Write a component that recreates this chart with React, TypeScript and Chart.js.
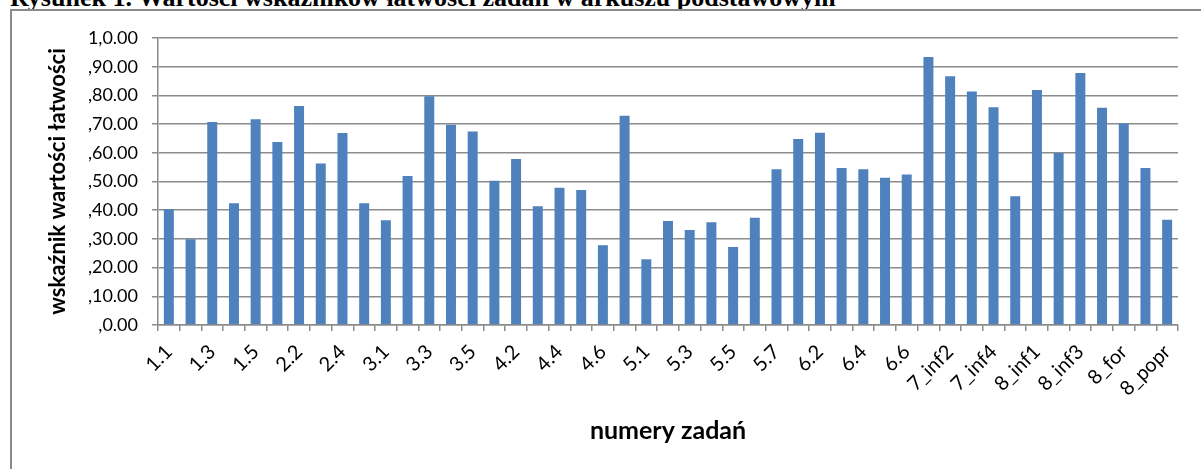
import React, { useEffect, useRef } from "react";
import { Chart, registerables } from "chart.js";

Chart.register(...registerables);

const categories: string[] = [
  "1.1", "1.2", "1.3", "1.4", "1.5",
  "2.1", "2.2", "2.3", "2.4", "2.5",
  "3.1", "3.2", "3.3", "3.4", "3.5",
  "4.1", "4.2", "4.3", "4.4", "4.5", "4.6", "4.7",
  "5.1", "5.2", "5.3", "5.4", "5.5", "5.6", "5.7",
  "6.1", "6.2", "6.3", "6.4", "6.5", "6.6",
  "7_inf1", "7_inf2", "7_inf3", "7_inf4", "7_popr",
  "8_inf1", "8_inf2", "8_inf3", "8_inf4", "8_for", "8_for2", "8_popr",
];

const easinessValues: number[] = [
  0.403, 0.299, 0.707, 0.424, 0.717,
  0.638, 0.763, 0.563, 0.669, 0.424,
  0.365, 0.519, 0.797, 0.698, 0.674,
  0.503, 0.578, 0.414, 0.478, 0.470, 0.278, 0.729,
  0.229, 0.362, 0.331, 0.358, 0.272, 0.374, 0.543,
  0.648, 0.670, 0.547, 0.543, 0.513, 0.524,
  0.934, 0.867, 0.814, 0.759, 0.449,
  0.819, 0.599, 0.878, 0.757, 0.702, 0.547, 0.367,
];

const yTickLabels: string[] = [
  ",0.00", ",10.00", ",20.00", ",30.00", ",40.00", ",50.00",
  ",60.00", ",70.00", ",80.00", ",90.00", "1,0.00",
];

const TITLE = "Rysunek 1. Wartości wskaźników łatwości zadań w arkuszu podstawowym";
const Y_TITLE = "wskaźnik wartości łatwości";
const X_TITLE = "numery zadań";

const FONT = "Lato, 'Noto Sans', sans-serif";
const GRID = "#8c8c8c";

export default function App() {
  const canvasRef = useRef<HTMLCanvasElement | null>(null);

  useEffect(() => {
    if (!canvasRef.current) return;
    const chart = new Chart(canvasRef.current, {
      type: "bar",
      data: {
        labels: categories,
        datasets: [
          {
            data: easinessValues,
            backgroundColor: "#4f81bd",
            borderWidth: 0,
            categoryPercentage: 1,
            barPercentage: 0.46,
          },
        ],
      },
      options: {
        animation: false,
        responsive: false,
        maintainAspectRatio: false,
        layout: { padding: { top: 38, right: 23, left: 0, bottom: 0 } },
        plugins: {
          legend: { display: false },
          tooltip: { enabled: false },
          title: { display: false },
        },
        scales: {
          x: {
            type: "category",
            offset: true,
            afterFit: (scale: any) => {
              scale.height = 144;
            },
            grid: {
              offset: true,
              display: true,
              drawOnChartArea: false,
              drawTicks: true,
              tickLength: 6,
              color: GRID,
              lineWidth: 1.5,
            },
            border: { display: true, color: GRID, width: 1.5 },
            ticks: {
              autoSkip: false,
              minRotation: 45,
              maxRotation: 45,
              padding: 9,
              color: "#000",
              font: { family: FONT, size: 20 },
              callback: (_v: any, i: number) => (i % 2 === 0 ? categories[i] : ""),
            },
            title: {
              display: true,
              text: X_TITLE,
              color: "#000",
              font: { family: FONT, size: 25, weight: "bold" },
              padding: { top: 0, bottom: 23 },
            },
          },
          y: {
            min: 0,
            max: 1,
            afterFit: (scale: any) => {
              scale.width = 158;
            },
            ticks: {
              stepSize: 0.1,
              padding: 14,
              color: "#000",
              font: { family: FONT, size: 18 },
              callback: (_v: any, i: number) => yTickLabels[i],
            },
            grid: {
              color: GRID,
              lineWidth: 1.5,
              tickLength: 6,
              drawTicks: true,
            },
            border: { display: true, color: GRID, width: 1.5 },
            title: {
              display: true,
              text: Y_TITLE,
              color: "#000",
              font: { family: FONT, size: 22, weight: "bold" },
              padding: { top: 45, bottom: 0 },
            },
          },
        },
      },
    });
    return () => chart.destroy();
  }, []);

  return (
    <div
      style={{
        position: "absolute",
        left: 0,
        top: 0,
        width: 1201,
        height: 469,
        overflow: "hidden",
        background: "#fff",
      }}
    >
      <div
        style={{
          position: "absolute",
          left: 10,
          top: -15,
          whiteSpace: "nowrap",
          fontFamily: "'Liberation Serif', 'Times New Roman', serif",
          fontWeight: "bold",
          fontSize: 26,
          lineHeight: "26px",
          color: "#000",
        }}
      >
        {TITLE}
      </div>
      <div
        style={{
          position: "absolute",
          left: 10,
          top: 9,
          width: 1210,
          height: 480,
          border: "2px solid #8a8a8a",
          boxSizing: "border-box",
        }}
      />
      <canvas
        ref={canvasRef}
        width={1201}
        height={469}
        style={{ position: "absolute", left: 0, top: 0, width: 1201, height: 469 }}
      />
    </div>
  );
}
